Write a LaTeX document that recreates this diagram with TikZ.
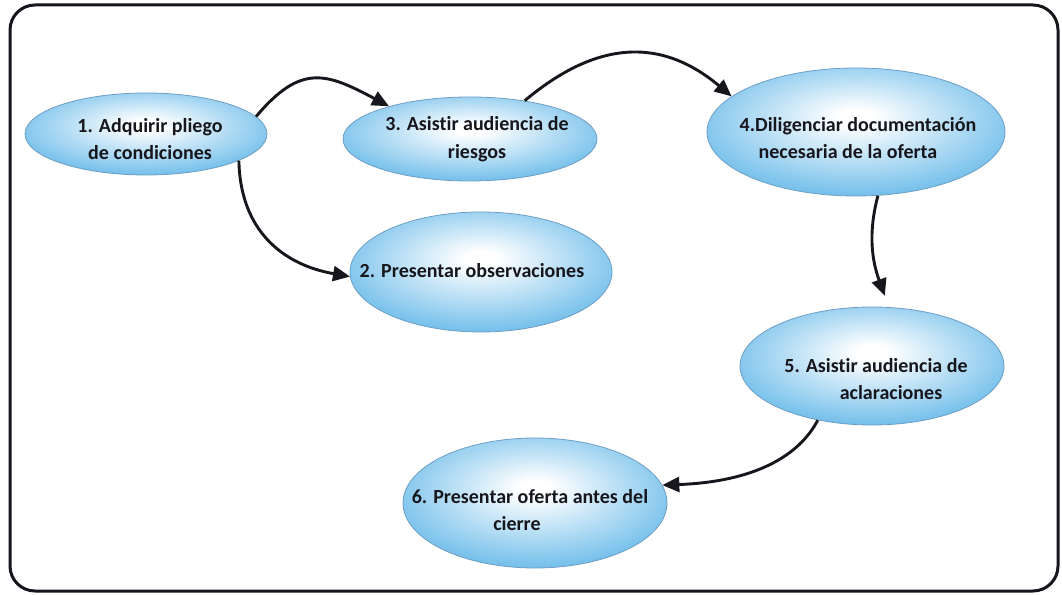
\documentclass[tikz,border=0pt]{standalone}
\usepackage{fontspec}
\setmainfont{Carlito}[Ligatures=NoCommon]
\usetikzlibrary{shapes.geometric,arrows.meta}

\definecolor{sky}{RGB}{96,182,232}
\definecolor{deepsky}{RGB}{86,172,228}
\definecolor{rim}{RGB}{110,158,196}
\definecolor{ink}{RGB}{22,22,28}

% light centre fading out to sky blue at the rim
\pgfdeclareradialshading{bubble}{\pgfpoint{0bp}{6bp}}{%
  color(0bp)=(white); color(3bp)=(white);
  color(32bp)=(sky); color(48bp)=(deepsky); color(70bp)=(deepsky)}

\tikzset{
  stage/.style={ellipse, draw=rim, line width=0.8pt, shading=bubble,
                inner sep=0pt},
  caption/.style={align=center, text=ink, inner sep=0pt,
                  font=\bfseries\fontsize{20}{27.5}\selectfont},
  flow/.style={draw=ink, line width=2.9pt,
               -{Triangle[length=17pt,width=15pt]}},
  frame/.style={draw=ink, line width=3pt, rounded corners=25pt}
}

\begin{document}
\begin{tikzpicture}[x=1pt,y=1pt]
  \useasboundingbox (0,0) rectangle (1062,594);
  \draw[frame] (10,589) rectangle (1058,3);

  % stages
  \node[stage, minimum width=242pt, minimum height=82pt]  (e1) at (146,460) {};
  \node[stage, minimum width=254pt, minimum height=84pt]  (e3) at (470,455) {};
  \node[stage, minimum width=262pt, minimum height=120pt] (e2) at (481,322) {};
  \node[stage, minimum width=298pt, minimum height=128pt] (e4) at (856,462) {};
  \node[stage, minimum width=264pt, minimum height=118pt] (e5) at (872,228) {};
  \node[stage, minimum width=264pt, minimum height=130pt] (e6) at (535,91)  {};

  % their captions
  \node[caption] (t1) at (150,455) {1. Adquirir pliego\\de condiciones};
  \node[caption] (t3) at (477,455) {3. Asistir audiencia de\\riesgos};
  \node[caption] (t2) at (472,323) {2. Presentar observaciones};
  \node[caption] (t4) at (858,456) {4.Diligenciar documentación\\necesaria de la oferta\hspace*{20pt}};
  \node[caption] (t5) at (876,215) {5. Asistir audiencia de\\\hspace*{30pt}aclaraciones};
  \node[caption] (t6) at (530,84)  {6. Presentar oferta antes del\\cierre\hspace*{26pt}};

  % sequence
  \draw[flow] (e1.9)   to[out=50,in=152,looseness=1.35] (e3.158);
  \draw[flow] (e1.344) to[out=-89,in=170,looseness=1.1] (e2.182);
  \draw[flow] (e3.35)  to[out=40,in=140,looseness=1.15] (e4.164);
  \draw[flow, shorten >=12pt] (e4.289) to[out=-105,in=110,looseness=1.0] (e5.74);
  \draw[flow] (e5.225) to[out=-118,in=2,looseness=0.9] (e6.8);
\end{tikzpicture}
\end{document}
